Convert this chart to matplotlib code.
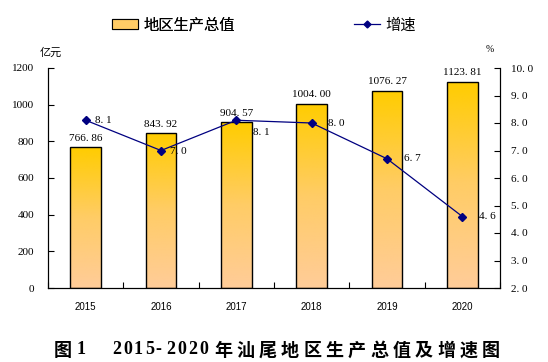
import matplotlib
matplotlib.use("Agg")
import matplotlib.pyplot as plt
import numpy as np
from matplotlib.colors import LinearSegmentedColormap
from matplotlib.patches import Patch
from matplotlib.lines import Line2D

plt.rcParams['font.family'] = ['Liberation Serif', 'Noto Sans CJK SC', 'DejaVu Sans']

years = ['2015', '2016', '2017', '2018', '2019', '2020']
gdp = [766.86, 843.92, 904.57, 1004.00, 1076.27, 1123.81]
growth = [8.1, 7.0, 8.1, 8.0, 6.7, 4.6]
gdp_labels = ['766. 86', '843. 92', '904. 57', '1004. 00', '1076. 27', '1123. 81']
growth_labels = ['8. 1', '7. 0', '8. 1', '8. 0', '6. 7', '4. 6']
left_ticks = [0, 200, 400, 600, 800, 1000, 1200]
right_ticks = [2.0, 3.0, 4.0, 5.0, 6.0, 7.0, 8.0, 9.0, 10.0]
title_prefix = '图 1'
title_years = '2015-2020'
title_rest = '年汕尾地区生产总值及增速图'

fig = plt.figure(figsize=(5.48, 3.62), dpi=100)
ax = fig.add_axes([48/548, 1-288/362, 452/548, 220/362])
ax2 = ax.twinx()

x = np.arange(len(years))
cmap = LinearSegmentedColormap.from_list('g', ['#FFCC99', '#FFCC66', '#FFCC00'])
bars = ax.bar(x, gdp, width=0.41, color='none', edgecolor='black', linewidth=1.0, zorder=3)
grad = np.linspace(0, 1, 256).reshape(-1, 1)
for b in bars:
    x0, y0 = b.get_x(), b.get_y()
    w, h = b.get_width(), b.get_height()
    im = ax.imshow(grad, extent=[x0, x0 + w, y0, y0 + h], origin='lower', cmap=cmap,
                   aspect='auto', zorder=2)
    im.set_clip_path(b)
ax.set_xlim(-0.5, len(years) - 0.5)
ax.set_ylim(0, 1200)

for xi, v, lab in zip(x, gdp, gdp_labels):
    ax.text(xi, v + 25, lab, ha='center', va='bottom', fontsize=8, color='black',
            family=['Liberation Serif'])

ax2.plot(x, growth, color='#000080', linewidth=0.9, marker='D', markersize=4.5, zorder=5)
ax2.set_ylim(2, 10)
offsets = [(0.12, 0.0), (0.12, -0.05), (0.22, -0.45), (0.22, 0.0), (0.22, 0.0), (0.22, 0.0)]
for xi, v, lab, (dx, dy) in zip(x, growth, growth_labels, offsets):
    ax2.text(xi + dx, v + dy, lab, ha='left', va='center', fontsize=8, color='black',
             family=['Liberation Serif'])

ax.set_yticks(left_ticks)
ax.set_yticklabels([str(t) for t in left_ticks], fontsize=8, family=['Liberation Serif'])
ax2.set_yticks(right_ticks)
ax2.set_yticklabels([f'{t:.1f}'.replace('.', '. ') for t in right_ticks], fontsize=8,
                    family=['Liberation Serif'])
ax.set_xticks(x)
ax.set_xticklabels(years, fontsize=7, family=['Liberation Sans'])
ax.tick_params(axis='x', length=0, pad=10)
ax.set_xticks(np.arange(-0.5, len(years), 1), minor=True)
ax.tick_params(axis='x', which='minor', direction='in', length=4, width=0.8)
ax.tick_params(axis='y', direction='in', length=4, width=0.8, pad=10)
ax2.tick_params(axis='y', direction='in', length=4, width=0.8, pad=8)

for a in (ax, ax2):
    a.spines['top'].set_visible(False)
    for s in ('left', 'right', 'bottom'):
        a.spines[s].set_linewidth(0.8)

fig.text(40/548, 1-53/362, '亿元', fontsize=8, family=['Noto Sans CJK SC'], va='center', ha='left')
fig.text(490/548, 1-50/362, '%', fontsize=7, family=['Liberation Serif'], va='center', ha='center')

handles = [Patch(facecolor='#FFCC66', edgecolor='black', linewidth=0.8),
           Line2D([0], [0], color='#000080', marker='D', markersize=3.5, linewidth=0.9)]
leg1 = fig.legend([handles[0]], ['地区生产总值'], loc='center left', bbox_to_anchor=(98/548, 1-25/362),
                  frameon=False, prop={'family': 'Noto Sans CJK SC', 'size': 11},
                  handlelength=1.7, handleheight=0.6, handletextpad=0.35)
fig.add_artist(leg1)
fig.legend([handles[1]], ['增速'], loc='center left', bbox_to_anchor=(340/548, 1-25/362),
           frameon=False, prop={'family': 'Noto Sans CJK SC', 'size': 11},
           handlelength=1.7, handletextpad=0.35)

# title with wide character spacing
ty = 1 - 350/362
tkw = dict(va='center', fontsize=13, fontweight='bold')
fig.text(54/548, ty, title_prefix[0], ha='left', family=['Noto Sans CJK SC'], **tkw)
fig.text(77/548, ty, title_prefix[-1], ha='left', family=['Liberation Serif'], **tkw)
dstep = 10.9
for i, ch in enumerate(title_years):
    fig.text((112 + dstep * i) / 548, ty, ch, ha='left', family=['Liberation Serif'], **tkw)
step = 22.3
for i, ch in enumerate(title_rest):
    fig.text((214 + step * i) / 548, ty, ch, ha='left', family=['Noto Sans CJK SC'], **tkw)

fig.savefig('out.png', dpi=100)
